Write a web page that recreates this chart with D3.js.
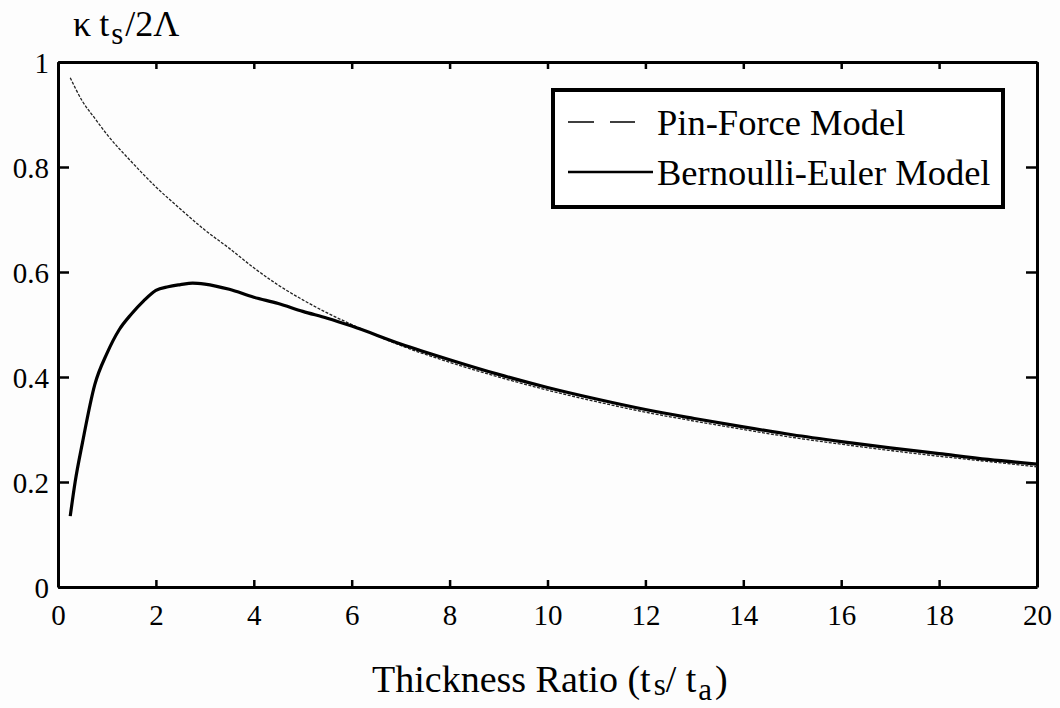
<!DOCTYPE html>
<html>
<head>
<meta charset="utf-8">
<script src="https://cdn.jsdelivr.net/npm/d3@7"></script>
<style>
  body { margin: 0; background: #fdfdfd; }
  svg text { font-family: "Liberation Serif", "Times New Roman", serif; }
</style>
</head>
<body>
<div id="chart"></div>
<script>
// thickness ratio ts/ta
const pinX = [0.25, 0.5, 0.75, 1, 1.5, 2, 2.5, 3, 3.5, 4, 4.5, 5, 5.5, 6, 7, 8, 9, 10, 11, 12, 13, 14, 15, 16, 17, 18, 19, 20];
const pinY = [0.97, 0.925, 0.893, 0.862, 0.81, 0.762, 0.72, 0.68, 0.645, 0.608, 0.575, 0.547, 0.522, 0.5, 0.46, 0.428, 0.4, 0.375, 0.353, 0.333, 0.316, 0.30, 0.285, 0.272, 0.26, 0.249, 0.239, 0.229];

const beX = [0.25, 0.35, 0.5, 0.75, 1, 1.25, 1.5, 1.75, 2, 2.25, 2.5, 2.75, 3, 3.5, 4, 4.5, 5, 5.5, 6, 7, 8, 9, 10, 11, 12, 13, 14, 15, 16, 17, 18, 19, 20];
const beY = [0.135, 0.2, 0.275, 0.385, 0.445, 0.49, 0.52, 0.545, 0.565, 0.572, 0.576, 0.579, 0.577, 0.567, 0.552, 0.54, 0.525, 0.512, 0.497, 0.463, 0.433, 0.405, 0.38, 0.358, 0.338, 0.321, 0.305, 0.290, 0.277, 0.265, 0.254, 0.243, 0.234];

const xTicks = [0, 2, 4, 6, 8, 10, 12, 14, 16, 18, 20];
const yTicks = [0, 0.2, 0.4, 0.6, 0.8, 1];
const legendLabels = ["Pin-Force Model", "Bernoulli-Euler Model"];

const serif = '"Liberation Serif", "Times New Roman", serif';

const W = 1060, H = 708;
const margin = { top: 62, right: 23, bottom: 121, left: 58 };
const width = W - margin.left - margin.right,
      height = H - margin.top - margin.bottom;

const svg = d3.select("#chart").append("svg")
    .attr("width", W)
    .attr("height", H);

const g = svg.append("g")
    .attr("transform", `translate(${margin.left},${margin.top})`);

const x = d3.scaleLinear().domain([0, 20]).range([0, width]);
const y = d3.scaleLinear().domain([0, 1]).range([height, 0]);

// axes, ticks pointing inward on all four sides
const fmt = d => d === 0 ? "0" : (Number.isInteger(d) ? String(d) : d3.format(".1f")(d));

const xAxis = g.append("g")
    .attr("transform", `translate(0,${height})`)
    .call(d3.axisBottom(x).tickValues(xTicks).tickFormat(fmt).tickSize(-7).tickSizeOuter(0).tickPadding(17));
const yAxis = g.append("g")
    .call(d3.axisLeft(y).tickValues(yTicks).tickFormat(fmt).tickSize(-11).tickSizeOuter(0).tickPadding(9));
const xTop = g.append("g")
    .call(d3.axisTop(x).tickValues(xTicks).tickFormat("").tickSize(-7).tickSizeOuter(0));
const yRight = g.append("g")
    .attr("transform", `translate(${width},0)`)
    .call(d3.axisRight(y).tickValues(yTicks).tickFormat("").tickSize(-11).tickSizeOuter(0));

[xAxis, yAxis, xTop, yRight].forEach(a => {
    a.attr("font-family", null);
    a.select(".domain").attr("stroke", "#000").attr("stroke-width", 3);
    a.selectAll(".tick line").attr("stroke", "#000").attr("stroke-width", 2.5);
    a.selectAll(".tick text")
        .style("font-family", serif)
        .style("font-size", "29px")
        .attr("fill", "#000");
});
yAxis.selectAll(".tick text").attr("dy", "0.35em");

// curves
const line = d3.line().x(d => x(d[0])).y(d => y(d[1])).curve(d3.curveMonotoneX);

g.append("path")
    .datum(pinX.map((v, i) => [v, pinY[i]]))
    .attr("fill", "none")
    .attr("stroke", "#222")
    .attr("stroke-width", 1.3)
    .attr("stroke-dasharray", "3,1.5")
    .attr("d", line);

g.append("path")
    .datum(beX.map((v, i) => [v, beY[i]]))
    .attr("fill", "none")
    .attr("stroke", "#000")
    .attr("stroke-width", 3.2)
    .attr("d", line);

// legend
const lg = svg.append("g").attr("transform", "translate(553,90)");
lg.append("rect")
    .attr("width", 450).attr("height", 117)
    .attr("fill", "#fff")
    .attr("stroke", "#000")
    .attr("stroke-width", 4);

lg.append("line")
    .attr("x1", 15).attr("x2", 82).attr("y1", 32).attr("y2", 32)
    .attr("stroke", "#000").attr("stroke-width", 1.5)
    .attr("stroke-dasharray", "26,16");
lg.append("line")
    .attr("x1", 15).attr("x2", 100).attr("y1", 82).attr("y2", 82)
    .attr("stroke", "#000").attr("stroke-width", 2.5);

lg.selectAll("text.leg")
    .data(legendLabels)
    .join("text")
    .attr("class", "leg")
    .attr("x", 104)
    .attr("y", (d, i) => 45 + i * 50)
    .style("font-size", "36.5px")
    .text(d => d);

// y axis title: κ t_s / 2Λ
const yt = svg.append("text")
    .attr("x", 73).attr("y", 36)
    .style("font-size", "36px");
yt.append("tspan").text("κ");
yt.append("tspan").attr("dx", 8).text("t");
yt.append("tspan").attr("dx", 2).attr("dy", 8).style("font-size", "31px").text("s");
yt.append("tspan").attr("dx", 2).attr("dy", -8).text("/2Λ");

// x axis title
const xt = svg.append("text")
    .attr("x", 372).attr("y", 692)
    .style("font-size", "38px");
xt.append("tspan").text("Thickness Ratio (t");
xt.append("tspan").attr("dx", 3).attr("dy", 3).style("font-size", "31px").text("s");
xt.append("tspan").attr("dy", -3).text("/ t");
xt.append("tspan").attr("dx", 2).attr("dy", 8).style("font-size", "31px").text("a");
xt.append("tspan").attr("dx", 3).attr("dy", -8).text(")");
</script>
</body>
</html>
